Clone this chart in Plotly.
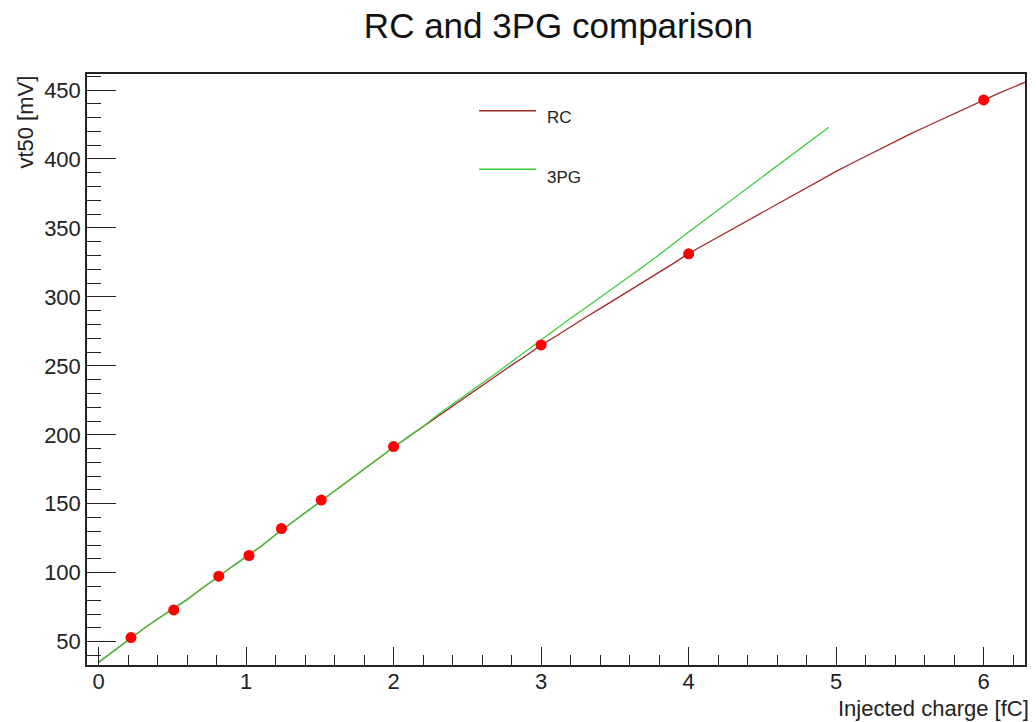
import plotly.graph_objects as go

# ---------------- data ----------------
charge_grid = [0.0, 0.1, 0.2, 0.3, 0.4, 0.5, 0.6, 0.7, 0.8, 0.9,
               1.0, 1.1, 1.2, 1.3, 1.4, 1.5, 1.6, 1.7, 1.8, 1.9,
               2.0, 2.1, 2.2, 2.3, 2.4, 2.5, 2.6, 2.7, 2.8, 2.9,
               3.0, 3.1, 3.2, 3.3, 3.4, 3.5, 3.6, 3.7, 3.8, 3.9,
               4.0, 4.1, 4.2, 4.3, 4.4, 4.5, 4.6, 4.7, 4.8, 4.9,
               5.0, 5.1, 5.2, 5.3, 5.4, 5.5, 5.6, 5.7, 5.8, 5.9,
               6.0, 6.1, 6.2, 6.3]
rc_vt50 = [35.0, 43.0, 51.5, 59.0, 66.5, 73.5, 80.5, 88.5, 96.5, 104.0,
           111.5, 119.0, 127.5, 135.5, 143.5, 151.5, 159.0, 167.0, 175.0, 183.0,
           191.0, 198.5, 206.0, 213.5, 220.5, 228.0, 235.5, 243.0, 250.5, 257.5,
           265.0, 271.5, 278.5, 285.0, 291.5, 298.0, 305.0, 311.5, 318.0, 324.5,
           331.5, 337.5, 343.5, 349.5, 355.5, 361.5, 367.5, 373.5, 379.0, 385.0,
           391.0, 396.5, 402.0, 407.5, 413.0, 418.0, 423.0, 428.0, 433.0, 438.0,
           443.0, 447.5, 452.0, 456.5]

pg_charge = [0.0, 0.1, 0.2, 0.3, 0.4, 0.5, 0.6, 0.7, 0.8, 0.9,
             1.0, 1.1, 1.2, 1.3, 1.4, 1.5, 1.6, 1.7, 1.8, 1.9,
             2.0, 2.1, 2.2, 2.3, 2.4, 2.5, 2.6, 2.7, 2.8, 2.9,
             3.0, 3.1, 3.2, 3.3, 3.4, 3.5, 3.6, 3.7, 3.8, 3.9,
             4.0, 4.1, 4.2, 4.3, 4.4, 4.5, 4.6, 4.7, 4.8, 4.9, 4.95]
pg_vt50 = [35.0, 43.0, 51.5, 59.0, 66.5, 73.5, 80.5, 88.5, 96.5, 104.0,
           111.5, 119.0, 127.5, 135.5, 143.5, 151.5, 159.0, 167.0, 175.0, 183.0,
           191.0, 198.5, 206.0, 214.5, 222.0, 229.5, 237.5, 245.0, 253.0, 261.0,
           269.0, 277.0, 284.5, 292.0, 299.5, 307.0, 314.5, 322.5, 330.5, 339.0,
           347.0, 355.0, 363.0, 371.0, 379.0, 387.0, 395.0, 403.0, 411.0, 419.0, 423.0]

meas_charge = [0.22, 0.51, 0.815, 1.02, 1.24, 1.51, 2.0, 3.0, 4.0, 6.0]
meas_vt50 = [53.0, 73.0, 97.5, 112.5, 132.0, 152.7, 191.5, 265.2, 331.2, 442.8]

legend_labels = ["RC", "3PG"]

# ---------------- styles ----------------
RC_COLOR = "#a02828"
PG_COLOR = "#3ccf3c"
FONT = "Liberation Sans, Arial, Helvetica, sans-serif"

fig = go.Figure()
fig.add_trace(go.Scatter(x=charge_grid, y=rc_vt50, mode="lines", name=legend_labels[0],
                         line=dict(color=RC_COLOR, width=1.3), showlegend=False))
fig.add_trace(go.Scatter(x=pg_charge, y=pg_vt50, mode="lines", name=legend_labels[1],
                         line=dict(color=PG_COLOR, width=1.3), showlegend=False))
fig.add_trace(go.Scatter(x=meas_charge, y=meas_vt50, mode="markers", name="points",
                         marker=dict(color="#ff0000", size=11), showlegend=False))

# manual legend (ROOT style, no box)
leg_rows = [(0.9379, 0.9272, RC_COLOR), (0.8388, 0.8257, PG_COLOR)]
for lab, (ly, ty, col) in zip(legend_labels, leg_rows):
    fig.add_shape(type="line", xref="paper", yref="paper", x0=0.418, x1=0.4787,
                  y0=ly, y1=ly, line=dict(color=col, width=1.5))
    fig.add_annotation(text=lab, xref="paper", yref="paper", x=0.4883, y=ty,
                       xanchor="left", yanchor="middle", showarrow=False,
                       font=dict(family=FONT, size=17, color="#222"))

# axis titles (ROOT style placement)
fig.add_annotation(text="Injected charge [fC]", xref="paper", yref="paper",
                   x=1.006, y=-0.0735, xanchor="right", yanchor="middle",
                   showarrow=False, font=dict(family=FONT, size=22, color="#222"))
fig.add_annotation(text="vt50 [mV]", xref="paper", yref="paper",
                   x=-0.066, y=1.0, xanchor="center", yanchor="top", textangle=-90,
                   showarrow=False, font=dict(family=FONT, size=22, color="#222"))

axis_common = dict(showgrid=False, zeroline=False, showline=True, mirror=True,
                   linecolor="#222", linewidth=1.5, ticks="inside", tickcolor="#222",
                   tickwidth=1.3, tickfont=dict(family=FONT, size=22, color="#222"))

fig.update_xaxes(range=[-0.078, 6.28], tickmode="linear", tick0=0, dtick=1, ticklen=18,
                 ticklabelstandoff=-4,
                 minor=dict(ticks="inside", dtick=0.2, tick0=0, ticklen=10,
                            tickcolor="#222", tickwidth=1.3),
                 **axis_common)
fig.update_yaxes(range=[33.1, 461.6], tickmode="linear", tick0=0, dtick=50, ticklen=29,
                 minor=dict(ticks="inside", dtick=10, tick0=0, ticklen=14,
                            tickcolor="#222", tickwidth=1.3),
                 **axis_common)

fig.update_layout(
    width=1036, height=722,
    margin=dict(l=87, r=9, t=74, b=57),
    paper_bgcolor="white", plot_bgcolor="white",
    title=dict(text="RC and 3PG comparison", x=0.539, xref="container", xanchor="center",
               y=0.965, yref="container", yanchor="middle",
               font=dict(family=FONT, size=35, color="#111")),
)

fig.write_html("out.html")
